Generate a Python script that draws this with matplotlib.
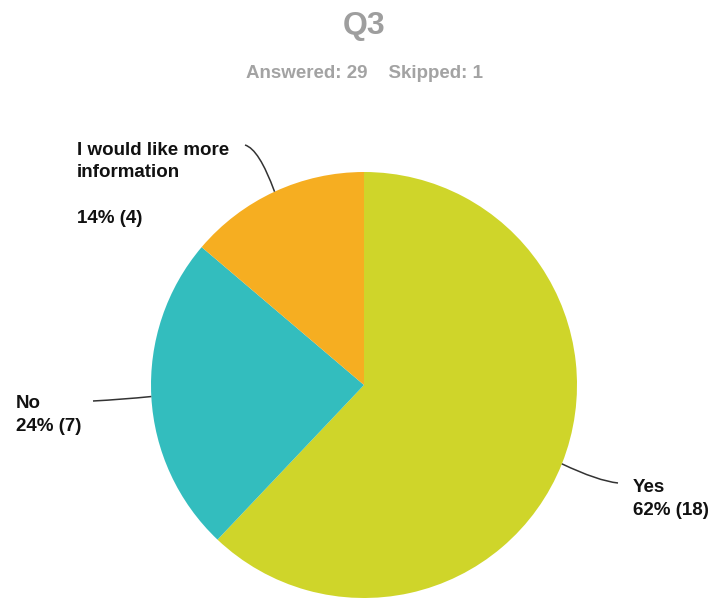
import numpy as np
import matplotlib.pyplot as plt
from matplotlib.path import Path
from matplotlib.patches import PathPatch

# Survey responses for Q3
labels = ['Yes', 'No', 'I would like more\ninformation']
counts = [18, 7, 4]
colors = ['#CFD52A', '#33BDBE', '#F6AE21']
answered = 29
skipped = 1

W, H = 714, 598
plt.rcParams['font.family'] = ['Liberation Sans', 'DejaVu Sans']

fig = plt.figure(figsize=(W / 100, H / 100), dpi=100)
ax = fig.add_axes([0, 0, 1, 1])

cx, cy, r = 364, H - 385, 213
wedges, _ = ax.pie(counts, colors=colors, startangle=90, counterclock=False,
                   center=(cx, cy), radius=r, frame=True,
                   wedgeprops=dict(linewidth=0))
ax.set_xlim(0, W)
ax.set_ylim(0, H)
ax.set_aspect('equal')
ax.axis('off')

fig.text(364 / W, 1 - 26 / H, 'Q3', ha='center', va='center',
         fontsize=23, fontweight='bold', color='#9E9E9E')
fig.text(365 / W, 1 - 73 / H, f'Answered: {answered}    Skipped: {skipped}',
         ha='center', va='center', fontsize=13.5, fontweight='bold', color='#A3A3A3')

total = sum(counts)
pcts = [round(100 * c / total) for c in counts]

# label left x, baselines of each text line, leader bend and end points
label_x = [633, 16, 77]
baselines = [[492, 515], [408, 431], [155, 177, 223]]
bends = [(598, 481), (122, 399.5), (259, 149)]
ends = [(618, 483), (93, 401), (245, 145)]

for w, lab, c, p, tx, bl, (bx, by), (ex, ey) in zip(
        wedges, labels, counts, pcts, label_x, baselines, bends, ends):
    mid = np.deg2rad((w.theta1 + w.theta2) / 2)
    sx = cx + r * np.cos(mid)
    sy = cy + r * np.sin(mid)
    leader = Path([(sx, sy), (bx, H - by), (ex, H - ey)],
                  [Path.MOVETO, Path.CURVE3, Path.CURVE3])
    ax.add_patch(PathPatch(leader, facecolor='none', edgecolor='#333333', lw=1.1))

    lines = lab.split('\n') + [f'{p}% ({c})']
    for line, y in zip(lines, bl):
        ax.text(tx, H - y, line, ha='left', va='baseline', fontsize=13.5,
                fontweight='bold', color='#111111')

fig.savefig('out.png', dpi=100)
